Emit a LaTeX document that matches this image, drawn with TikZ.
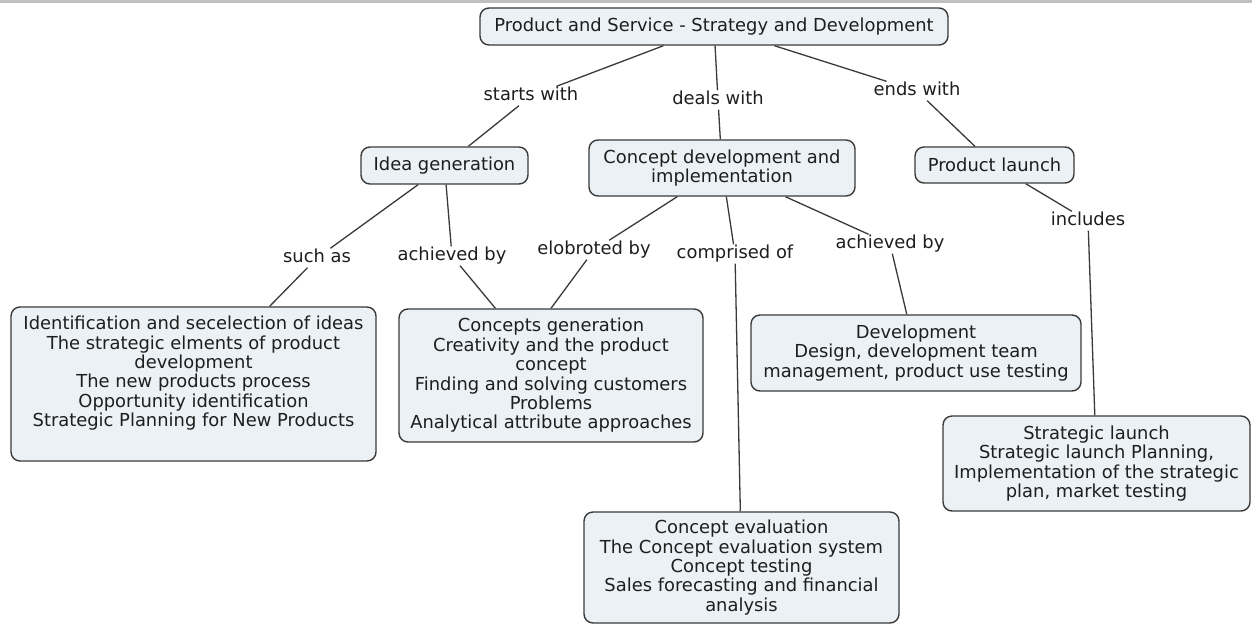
\documentclass[tikz,border=0pt]{standalone}
\usepackage{fontspec}
\setmainfont{DejaVu Sans}
\definecolor{boxfill}{HTML}{EBF1F4}
\definecolor{boxline}{HTML}{3A3A3A}
\definecolor{txtcol}{HTML}{1E1E1E}
\definecolor{topbar}{HTML}{C0C0C0}
\newcommand\mapfont{\fontsize{17.9pt}{19.4pt}\selectfont}
\tikzset{
  box/.style={draw=boxline, fill=boxfill, line width=1.4pt, rounded corners=9pt,
    inner sep=0pt, align=center, font=\mapfont, text=txtcol},
  lbl/.style={inner sep=1.5pt, text height=12pt, text depth=4pt, font=\mapfont, text=txtcol},
  conn/.style={draw=boxline, line width=1.3pt}
}
\begin{document}
\begin{tikzpicture}[x=1pt,y=-1pt]
\useasboundingbox (0,0) rectangle (1252,624);
\fill[white] (0,0) rectangle (1252,624);
\fill[topbar] (0,0) rectangle (1252,2.5);

% concepts
\node[box, minimum width=468, minimum height=37] (root) at (714,26.5) {Product and Service - Strategy and Development};
\node[box, minimum width=167, minimum height=37] (idea) at (444.5,165.5) {Idea generation};
\node[box, minimum width=266, minimum height=56] (cdev) at (722,168) {Concept development and\\implementation};
\node[box, minimum width=159, minimum height=36] (plaunch) at (994.5,165) {Product launch};
\node[box, minimum width=365, minimum height=154] (ident) at (193.5,384) {Identification and secelection of ideas\\The strategic elments of product\\development\\The new products process\\Opportunity identification\\Strategic Planning for New Products\\[6pt]\mbox{}};
\node[box, minimum width=304, minimum height=133] (cgen) at (551,375.5) {Concepts generation\\Creativity and the product\\concept\\Finding and solving customers\\Problems\\Analytical attribute approaches};
\node[box, minimum width=330, minimum height=76] (dev) at (916,353) {Development\\Design, development team\\management, product use testing};
\node[box, minimum width=307, minimum height=95] (slaunch) at (1096.5,463.5) {Strategic launch\\Strategic launch Planning,\\Implementation of the strategic\\plan, market testing};
\node[box, minimum width=315, minimum height=111] (ceval) at (741.5,567.5) {Concept evaluation\\The Concept evaluation system\\Concept testing\\Sales forecasting and financial\\analysis};

% linking phrases
\node[lbl] (starts) at (531,96) {starts with};
\node[lbl] (deals) at (718,100) {deals with};
\node[lbl] (ends) at (917,91) {ends with};
\node[lbl] (such) at (317,258) {such as};
\node[lbl] (achl) at (452,256) {achieved by};
\node[lbl] (elob) at (594,250) {elobroted by};
\node[lbl] (comp) at (735,254) {comprised of};
\node[lbl] (achr) at (890,244) {achieved by};
\node[lbl] (incl) at (1088,221) {includes};

% connectors
\draw[conn] (root) -- (starts);
\draw[conn] (starts) -- (idea);
\draw[conn] (root) -- (deals);
\draw[conn] (deals) -- (cdev);
\draw[conn] (root) -- (ends);
\draw[conn] (ends) -- (plaunch);
\draw[conn] (idea) -- (such);
\draw[conn] (such) -- (ident);
\draw[conn] (idea) -- (achl);
\draw[conn] (achl) -- (cgen);
\draw[conn] (cdev) -- (elob);
\draw[conn] (elob) -- (cgen.north);
\draw[conn] (cdev) -- (comp);
\draw[conn] (comp) -- (ceval);
\draw[conn] (cdev) -- (achr);
\draw[conn] (achr) -- (dev);
\draw[conn] (plaunch) -- (incl);
\draw[conn] (incl) -- (slaunch);
\end{tikzpicture}
\end{document}
